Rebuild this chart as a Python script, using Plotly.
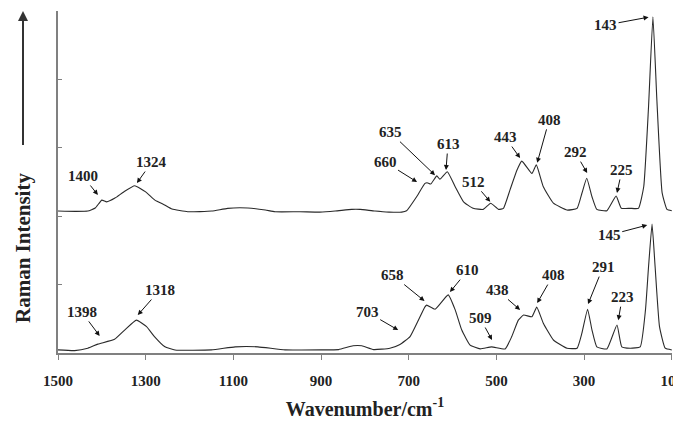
import plotly.graph_objects as go

# Upper spectrum (offset), wavenumber (cm-1) and intensity (a.u.)
upper_wn = [1500, 1460, 1432, 1415, 1400, 1389, 1370, 1350, 1325, 1300, 1279, 1257, 1240, 1204,
            1149, 1113, 1067, 1027, 1005, 948, 903, 868, 830, 811, 777, 745, 716, 705, 682, 663,
            658, 650, 636, 629, 612, 594, 575, 553, 530, 513, 495, 484, 469, 453, 442, 419, 409,
            393, 370, 339, 316, 305, 294, 282, 271, 248, 227, 215, 195, 176, 164, 153, 143, 134,
            122, 111, 100]
upper_int = [41.5, 41.4, 41.5, 42.4, 44.7, 44.2, 45.3, 47.1, 48.9, 47.1, 44.7, 43.3, 42.1, 41.3,
             41.5, 42.3, 42.4, 41.8, 41.3, 41.3, 41.2, 41.5, 42.0, 42.0, 41.5, 41.2, 41.2, 41.6,
             45.7, 49.6, 49.8, 49.4, 51.8, 50.8, 53.0, 48.6, 44.2, 42.3, 42.0, 43.8, 42.0, 42.3,
             47.7, 53.5, 56.1, 52.5, 55.0, 48.6, 43.8, 41.8, 42.3, 46.7, 51.1, 45.7, 42.0, 41.6,
             45.9, 42.3, 42.3, 42.3, 48.6, 72.0, 98.3, 74.0, 46.8, 42.0, 41.6]

# Lower spectrum
lower_wn = [1500, 1462, 1432, 1409, 1371, 1348, 1321, 1298, 1280, 1256, 1233, 1150, 1096, 1044,
            982, 900, 860, 827, 807, 780, 743, 720, 697, 678, 663, 659, 640, 610, 594, 579, 560,
            537, 511, 480, 465, 450, 438, 419, 408, 393, 370, 339, 316, 305, 292, 282, 271, 248,
            225, 214, 195, 172, 160, 153, 145, 138, 128, 115, 100]
lower_int = [0.9, 0.7, 1.4, 2.6, 4.0, 6.7, 9.6, 7.7, 4.8, 1.8, 0.9, 0.9, 1.8, 1.8,
             0.9, 0.9, 1.0, 2.1, 2.1, 1.0, 1.4, 2.5, 4.8, 9.6, 13.5, 14.0, 12.8, 17.0, 12.6, 6.7,
             2.3, 1.2, 1.8, 1.2, 4.8, 9.6, 11.1, 10.6, 13.4, 8.7, 3.8, 1.4, 1.4, 5.8, 12.8, 6.7,
             1.8, 1.2, 8.2, 1.8, 1.4, 1.8, 12.6, 25.2, 37.7, 25.2, 7.7, 1.4, 0.9]

# Peak labels: text, arrow head (wavenumber, intensity), text offset (px)
upper_labels = ["1400", "1324", "660", "635", "613", "512", "443", "408", "292", "225", "143"]
upper_heads_wn = [1409, 1320, 681, 640, 615, 514, 446, 407, 293, 225, 153]
upper_heads_int = [46.2, 49.7, 50.0, 52.0, 53.5, 44.2, 57.0, 55.6, 52.6, 46.8, 98.2]
upper_dx = [-15, 15, -32, -45, 2, -17, -15, 12, -12, 5, -43]
upper_dy = [-19, -21, -20, -43, -26, -20, -21, -43, -21, -23, 8]

lower_labels = ["1398", "1318", "703", "658", "610", "509", "438", "408", "291", "223", "145"]
lower_heads_wn = [1405, 1318, 724, 664, 606, 510, 446, 407, 291, 222, 156]
lower_heads_int = [5.0, 11.1, 6.7, 15.2, 17.8, 3.8, 12.6, 14.6, 14.3, 9.6, 37.4]
lower_dx = [-18, 22, -31, -32, 18, -12, -23, 16, 15, 4, -38]
lower_dy = [-24, -25, -18, -26, -22, -22, -20, -28, -37, -23, 10]

x_ticks = [1500, 1300, 1100, 900, 700, 500, 300, 100]
x_tick_labels = ["1500", "1300", "1100", "900", "700", "500", "300", "100"]

FONT = "Liberation Serif"
LINE = "#2a2a2a"
AXIS = "#808080"

fig = go.Figure()
for wn, it in [(upper_wn, upper_int), (lower_wn, lower_int)]:
    fig.add_trace(go.Scatter(x=wn, y=it, mode="lines",
                             line=dict(color=LINE, width=1.1, shape="spline", smoothing=0.4),
                             showlegend=False, hoverinfo="skip", cliponaxis=False))

annotations = []
for labels, hx, hy, dx, dy in [(upper_labels, upper_heads_wn, upper_heads_int, upper_dx, upper_dy),
                               (lower_labels, lower_heads_wn, lower_heads_int, lower_dx, lower_dy)]:
    for t, x, y, ax, ay in zip(labels, hx, hy, dx, dy):
        annotations.append(dict(x=x, y=y, xref="x", yref="y", text="<b>%s</b>" % t,
                                showarrow=True, ax=ax, ay=ay, arrowhead=2, arrowsize=1,
                                arrowwidth=1, arrowcolor="#111", standoff=0, startstandoff=0,
                                font=dict(family=FONT, size=15, color="#222")))

# y-axis title and arrow
annotations.append(dict(x=-0.057, y=0.307, xref="paper", yref="paper",
                        xanchor="center", yanchor="middle",
                        text="<b>Raman Intensity</b>", showarrow=False, textangle=-90,
                        font=dict(family=FONT, size=21, color="#222")))
annotations.append(dict(x=-0.057, y=1.0, xref="paper", yref="paper", text=" ",
                        xanchor="center", yanchor="middle",
                        showarrow=True, ax=0, ay=137, arrowhead=2, arrowsize=1,
                        arrowwidth=2, arrowcolor="#333", standoff=0,
                        font=dict(size=2)))

# page body has an 8px default margin; size the figure to fill the rest of the window
fig.update_layout(
    width=673, height=423,
    margin=dict(l=50, r=9, t=3, b=78, autoexpand=False),
    plot_bgcolor="white", paper_bgcolor="white",
    annotations=annotations,
    xaxis=dict(range=[1500, 99.5], tickvals=x_ticks, ticktext=["<b>%s</b>" % s for s in x_tick_labels],
               ticks="outside", ticklen=5, ticklabeloverflow="allow",
               tickcolor=AXIS, showline=True, linecolor=AXIS, linewidth=1.5,
               showgrid=False, zeroline=False, ticklabelstandoff=8, automargin=False,
               tickfont=dict(family=FONT, size=15, color="#222"),
               title=dict(text="<b>Wavenumber/cm<sup>-1</sup></b>", standoff=14,
                          font=dict(family=FONT, size=20, color="#222"))),
    yaxis=dict(range=[0, 100], dtick=20, ticks="inside", ticklen=4, tickcolor=AXIS,
               showticklabels=False, showline=True, linecolor=AXIS, linewidth=1.5,
               showgrid=False, zeroline=False, automargin=False),
)

fig.write_html("out.html")
